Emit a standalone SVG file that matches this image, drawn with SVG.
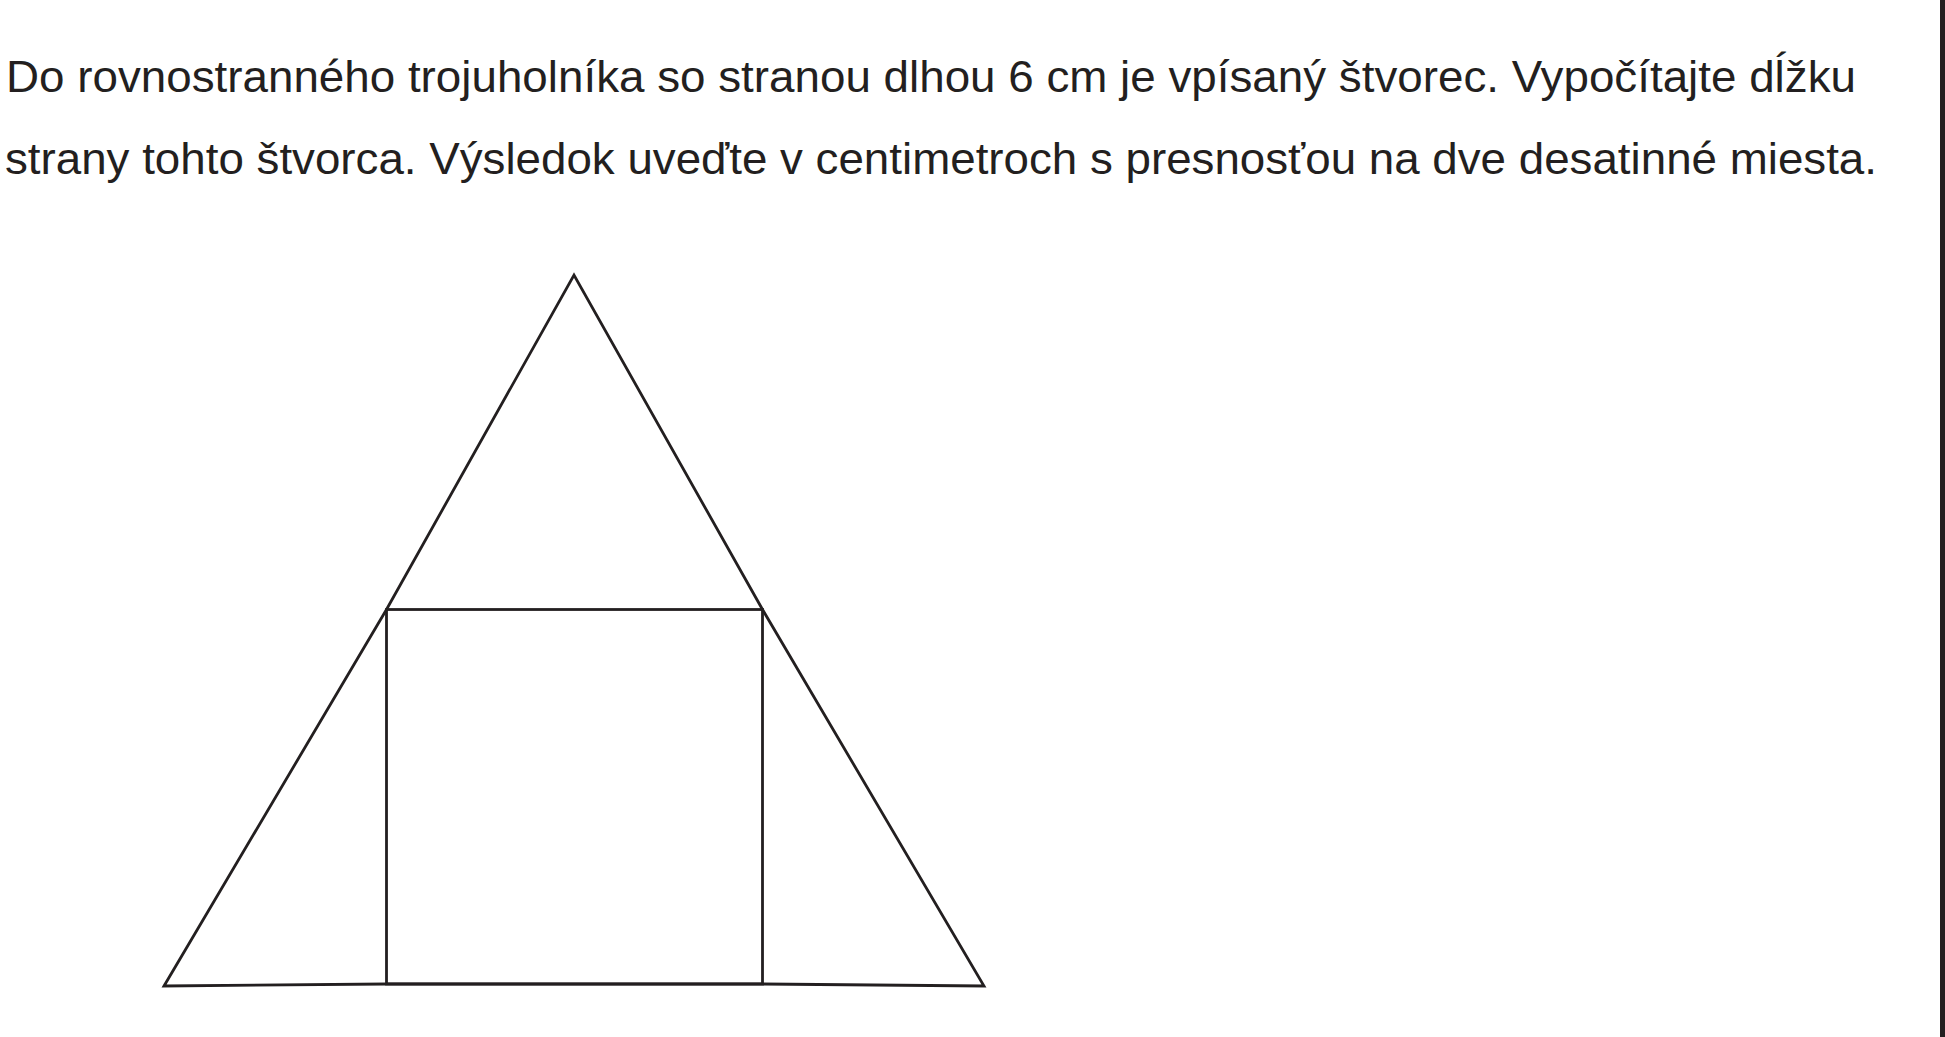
<svg xmlns="http://www.w3.org/2000/svg" width="1945" height="1037" viewBox="0 0 1945 1037">
<style>
.t{font-family:"Liberation Sans",Arial,sans-serif;font-size:45px;fill:#231f20}
.s{fill:none;stroke:#231f20;stroke-width:2.8;stroke-linejoin:miter}
</style>
<rect width="1945" height="1037" fill="#ffffff"/>
<g id="text">
<text class="t" x="6" y="92" textLength="1850" lengthAdjust="spacingAndGlyphs">Do rovnostranného trojuholníka so stranou dlhou 6 cm je vpísaný štvorec. Vypočítajte dĺžku</text>
<text class="t" x="5" y="174" textLength="1872" lengthAdjust="spacingAndGlyphs">strany tohto štvorca. Výsledok uveďte v centimetroch s presnosťou na dve desatinné miesta.</text>
</g>
<g id="border">
<rect x="1940" y="0" width="5" height="1037" fill="#231f20"/>
</g>
<g id="triangle">
<path class="s" d="M164,986 L386.5,609.5 L574,275 L762.5,609.5 L984,986 L762.5,984 L386.5,984 Z"/>
</g>
<g id="square">
<rect class="s" x="386.5" y="609.5" width="376" height="374.5"/>
</g>
</svg>
